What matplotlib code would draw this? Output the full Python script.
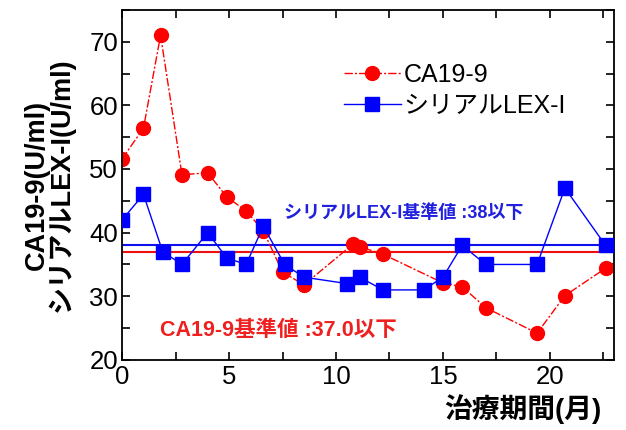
import matplotlib
matplotlib.use("Agg")
import matplotlib.pyplot as plt
from matplotlib.ticker import MultipleLocator

plt.rcParams['font.family'] = ['Liberation Sans', 'Noto Sans CJK JP']

# CA19-9 values
ca_x = [0, 1.0, 1.8, 2.8, 4.0, 4.9, 5.8, 6.6, 7.5, 8.5, 10.8, 11.1, 12.2, 15.0, 15.9, 17.0, 19.4, 20.7, 22.6]
ca_y = [51.6, 56.4, 71.0, 49.1, 49.4, 45.6, 43.4, 40.3, 33.8, 31.8, 38.2, 37.8, 36.6, 32.1, 31.5, 28.2, 24.2, 30.1, 34.4]

# シリアルLEX-I values
lex_x = [0, 1.0, 1.9, 2.8, 4.0, 4.9, 5.8, 6.6, 7.6, 8.5, 10.5, 11.1, 12.2, 14.1, 15.0, 15.9, 17.0, 19.4, 20.7, 22.6]
lex_y = [42, 46, 37, 35, 40, 36, 35, 41, 35, 33, 32, 33, 31, 31, 33, 38, 35, 35, 47, 38]

ca_ref = 37.0
lex_ref = 38

fig = plt.figure(figsize=(6.26, 4.30), dpi=100)
ax = fig.add_axes([0.195, 0.163, 0.786, 0.814])

ax.axhline(lex_ref, color='#1010ee', lw=1.5, zorder=1)
ax.axhline(ca_ref, color='#ee1010', lw=1.5, zorder=1)

ax.plot(ca_x, ca_y, color='#ff0000', lw=1.0, ls=(0, (6, 1.5, 1.5, 1.5)),
        marker='o', ms=10, mec='#ff0000', mfc='#ff0000', label='CA19-9', zorder=2)
ax.plot(lex_x, lex_y, color='#0000ff', lw=1.0, ls='-',
        marker='s', ms=10, mec='#0000ff', mfc='#0000ff', label='シリアルLEX-I', zorder=3)

ax.text(0.33, 0.42, 'シリアルLEX-I基準値 :38以下', transform=ax.transAxes,
        color='#2020dd', fontsize=13, fontweight='bold', va='center')
ax.text(0.078, 0.083, 'CA19-9基準値 :37.0以下', transform=ax.transAxes,
        color='#ee2020', fontsize=15.5, fontweight='bold', va='center')

ax.set_xlim(0, 23)
ax.set_ylim(20, 75)
ax.xaxis.set_major_locator(MultipleLocator(5))
ax.xaxis.set_minor_locator(MultipleLocator(2.5))
ax.yaxis.set_major_locator(MultipleLocator(10))
ax.yaxis.set_minor_locator(MultipleLocator(5))
ax.tick_params(which='both', direction='in', top=True, right=True, labelsize=18.5, width=1.2)
ax.tick_params(axis='x', pad=4)
ax.tick_params(axis='y', pad=3)
ax.tick_params(which='major', length=6)
ax.tick_params(which='minor', length=6)
for s in ax.spines.values():
    s.set_linewidth(1.3)

ax.set_ylabel('CA19-9(U/ml)\nシリアルLEX-I(U/ml)', fontsize=19.5, fontweight='bold',
              linespacing=0.9, labelpad=10)
ax.set_xlabel('治療期間(月)', fontsize=20, fontweight='bold')
ax.xaxis.set_label_coords(0.975, -0.098)
ax.xaxis.label.set_ha('right')

ax.legend(loc='upper left', bbox_to_anchor=(0.425, 0.885), frameon=False, fontsize=18,
          handlelength=2.3, handletextpad=0.1, labelspacing=0.3, borderpad=0)

fig.savefig('out.png', dpi=100)
